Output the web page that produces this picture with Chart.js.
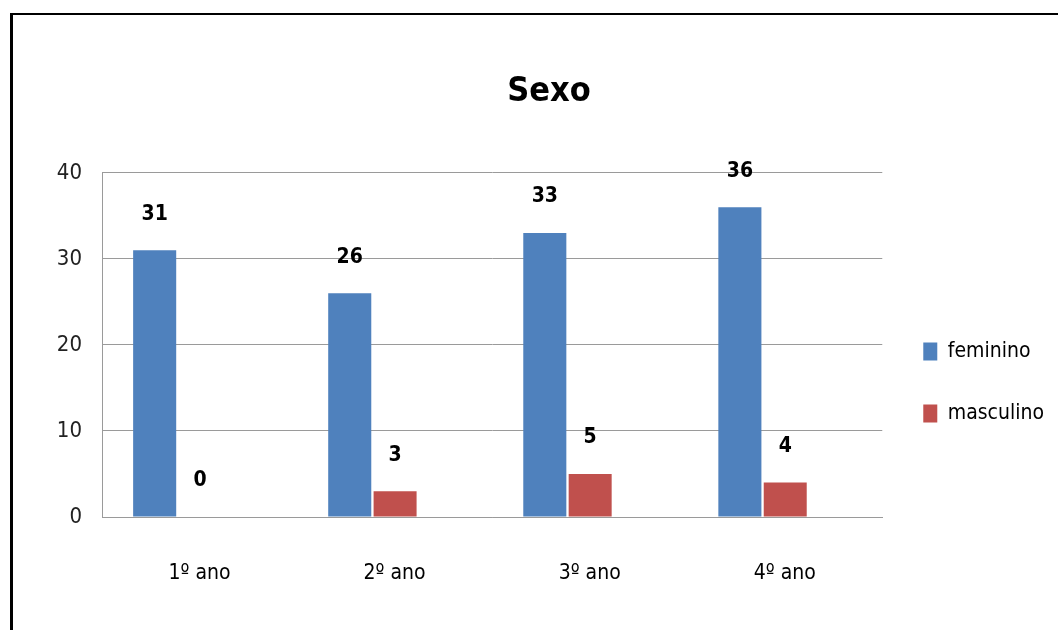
<!DOCTYPE html>
<html>
<head>
<meta charset="utf-8">
<title>Sexo</title>
<script src="https://cdn.jsdelivr.net/npm/chart.js@4.4.1/dist/chart.umd.min.js"></script>
<style>
  html, body { margin: 0; padding: 0; background: #fff; }
  .quadro { position: relative; width: 1058px; height: 630px; overflow: hidden; }
  .moldura {
    position: absolute; left: 10px; top: 13px; right: -10px; bottom: -10px;
    border-top: 2px solid #000; border-left: 3px solid #000;
  }
  canvas { position: absolute; left: 0; top: 0; }
</style>
</head>
<body>
<div class="quadro">
  <div class="moldura"></div>
  <canvas id="graficoSexo" width="1058" height="630"></canvas>
</div>
<script>
// Dados
const anos = ["1º ano", "2º ano", "3º ano", "4º ano"];
const feminino = [31, 26, 33, 36];
const masculino = [0, 3, 5, 4];
const ticksY = [0, 10, 20, 30, 40];

const fonte = "'DejaVu Sans Condensed', 'Liberation Sans', sans-serif";
const cinza = '#9a9a9a';

Chart.defaults.font.family = fonte;
Chart.defaults.color = '#000';

// Valor escrito acima de cada barra
const rotulos = {
  id: 'rotulos',
  afterDatasetsDraw(chart) {
    const ctx = chart.ctx;
    ctx.save();
    ctx.font = "bold 21px " + fonte;
    ctx.fillStyle = '#000';
    ctx.textAlign = 'center';
    ctx.textBaseline = 'middle';
    chart.data.datasets.forEach((ds, i) => {
      chart.getDatasetMeta(i).data.forEach((bar, j) => {
        ctx.fillText(ds.data[j], bar.x, bar.y - 36);
      });
    });
    ctx.restore();
  }
};

new Chart(document.getElementById("graficoSexo"), {
  type: "bar",
  data: {
    labels: anos,
    datasets: [
      {
        label: "feminino",
        data: feminino,
        backgroundColor: "#4f81bd",
        categoryPercentage: 0.92,
        barPercentage: 0.48
      },
      {
        // barras vermelhas encostadas nas azuis
        label: "masculino",
        data: masculino,
        backgroundColor: "#c0504d",
        categoryPercentage: 0.01,
        barPercentage: 45,
        maxBarThickness: 43
      }
    ]
  },
  options: {
    responsive: false,
    animation: false,
    layout: {
      padding: { left: 44, right: 4, top: 0, bottom: 41 }
    },
    plugins: {
      title: {
        display: true,
        text: "Sexo",
        color: '#000',
        font: { size: 34, weight: 'bold' },
        padding: { top: 72, bottom: 60 }
      },
      legend: {
        position: 'right',
        // titulo vazio so para descer a legenda
        title: {
          display: true,
          text: ' ',
          font: { size: 10 },
          padding: { top: 164, bottom: 0 }
        },
        labels: {
          boxWidth: 14,
          boxHeight: 18,
          padding: 41,
          color: '#000',
          font: { size: 21 }
        }
      },
      tooltip: { enabled: false }
    },
    scales: {
      x: {
        afterFit: axis => {
          axis.height = 72;
        },
        grid: { display: false, drawTicks: false },
        border: { color: cinza, width: 1 },
        ticks: {
          color: '#000',
          padding: 44,
          maxRotation: 0,
          font: { size: 21 }
        }
      },
      y: {
        min: 0,
        max: 40,
        afterBuildTicks: axis => {
          axis.ticks = ticksY.map(v => ({ value: v }));
        },
        afterFit: axis => {
          axis.width = 58;
        },
        grid: { color: cinza, drawTicks: false },
        border: { color: cinza, width: 1 },
        ticks: {
          color: '#222',
          padding: 20,
          font: { size: 22 }
        }
      }
    }
  },
  plugins: [rotulos]
});
</script>
</body>
</html>
